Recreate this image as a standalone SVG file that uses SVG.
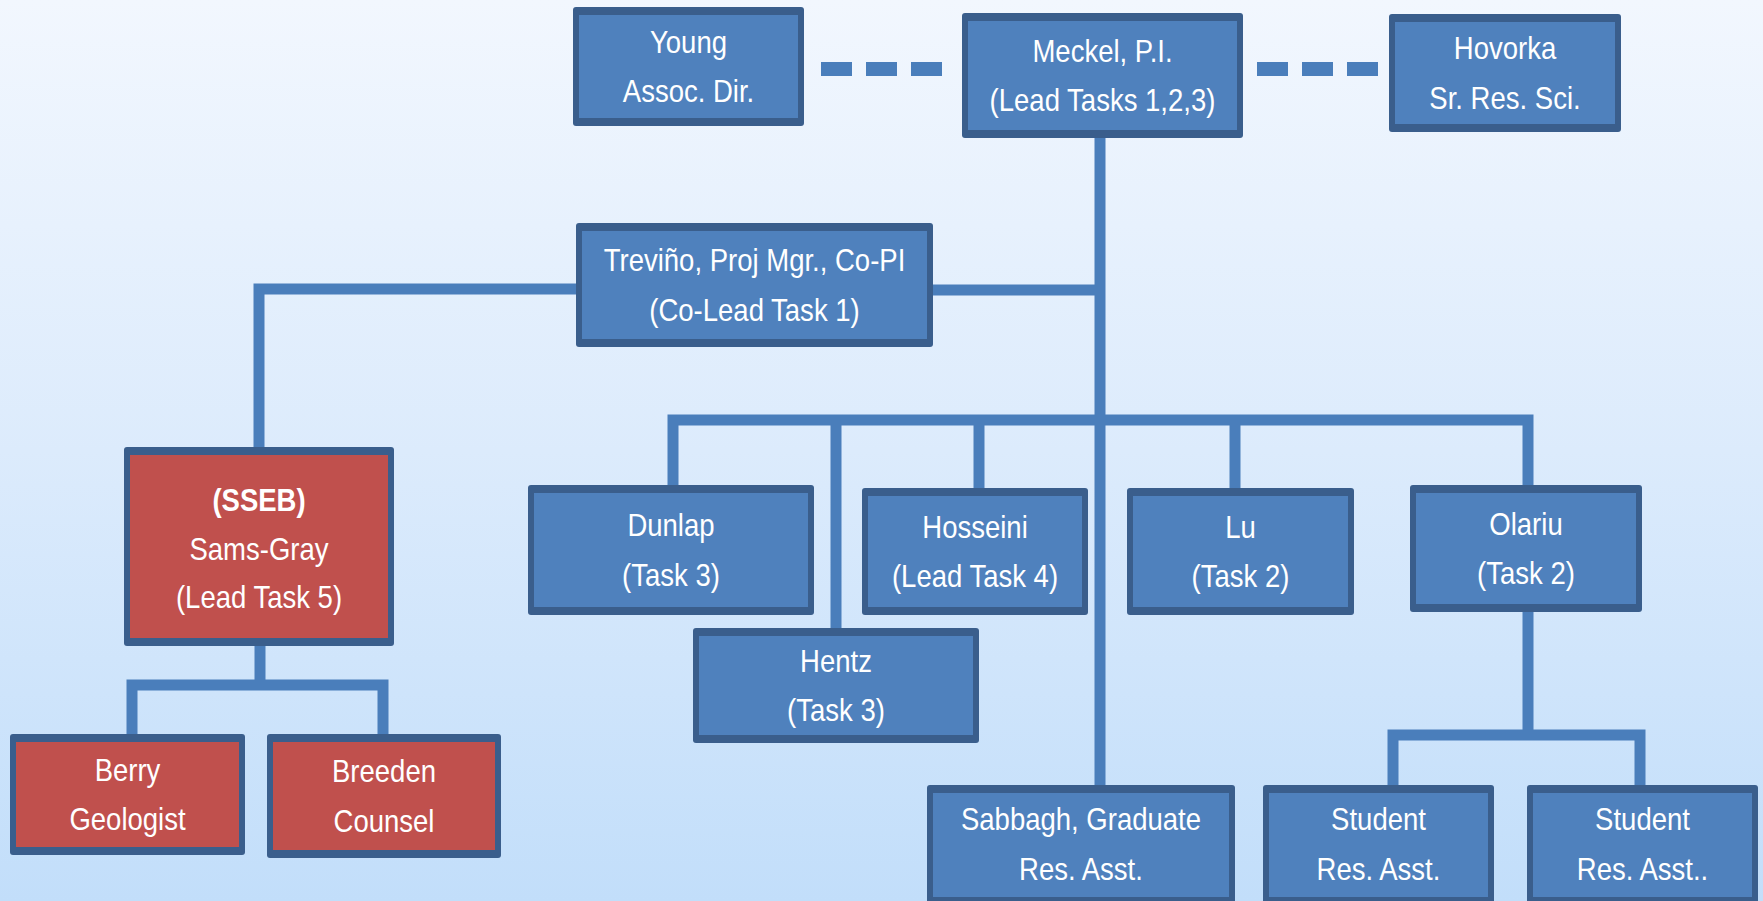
<svg xmlns="http://www.w3.org/2000/svg" width="1763" height="901" viewBox="0 0 1763 901">
<defs>
<linearGradient id="bg" x1="0" y1="0" x2="0" y2="1">
<stop offset="0" stop-color="#f2f7fe"/>
<stop offset="0.5" stop-color="#dcebfc"/>
<stop offset="1" stop-color="#c2defa"/>
</linearGradient>
<style>
.bd{fill:#3a5e8c}
.fb{fill:#4f81bd}
.fr{fill:#c0504d}
.ln{fill:none;stroke:#4a7ebb;stroke-width:11;stroke-linejoin:miter;stroke-linecap:butt}
.ds{fill:#4a7ebb}
text{font-family:"Liberation Sans",Arial,sans-serif;font-size:32px;fill:#ffffff;text-anchor:middle}
.b{font-weight:bold}
</style>
</defs>
<rect x="0" y="0" width="1763" height="901" fill="url(#bg)"/>
<g id="connectors">
<rect class="ds" x="821" y="62" width="31" height="14"/>
<rect class="ds" x="866" y="62" width="31" height="14"/>
<rect class="ds" x="911" y="62" width="31" height="14"/>
<rect class="ds" x="1257" y="62" width="31" height="14"/>
<rect class="ds" x="1302" y="62" width="31" height="14"/>
<rect class="ds" x="1347" y="62" width="31" height="14"/>
<path class="ln" d="M1100 138 V786"/>
<path class="ln" d="M933 290 H1100"/>
<path class="ln" d="M576 289 H259 V448"/>
<path class="ln" d="M673 486 V420 H1528 V486"/>
<path class="ln" d="M836 420 V629"/>
<path class="ln" d="M979 420 V489"/>
<path class="ln" d="M1235 420 V489"/>
<path class="ln" d="M260 646 V685"/>
<path class="ln" d="M132 735 V685 H383 V735"/>
<path class="ln" d="M1528 612 V735"/>
<path class="ln" d="M1393 786 V735 H1640 V786"/>
</g>
<g id="young">
<rect class="bd" x="573" y="7" width="231" height="119" rx="3"/>
<rect class="fb" x="579" y="15" width="219" height="103"/>
<g transform="translate(688.5 66.5) scale(0.86 1)"><text x="0" y="-14">Young</text><text x="0" y="36">Assoc. Dir.</text></g>
</g>
<g id="meckel">
<rect class="bd" x="962" y="13" width="281" height="125" rx="3"/>
<rect class="fb" x="968" y="21" width="269" height="109"/>
<g transform="translate(1102.5 75.5) scale(0.86 1)"><text x="0" y="-14">Meckel, P.I.</text><text x="0" y="36">(Lead Tasks 1,2,3)</text></g>
</g>
<g id="hovorka">
<rect class="bd" x="1389" y="14" width="232" height="118" rx="3"/>
<rect class="fb" x="1395" y="22" width="220" height="102"/>
<g transform="translate(1505 73) scale(0.86 1)"><text x="0" y="-14">Hovorka</text><text x="0" y="36">Sr. Res. Sci.</text></g>
</g>
<g id="trevino">
<rect class="bd" x="576" y="223" width="357" height="124" rx="3"/>
<rect class="fb" x="582" y="231" width="345" height="108"/>
<g transform="translate(754.5 285) scale(0.86 1)"><text x="0" y="-14">Treviño, Proj Mgr., Co-PI</text><text x="0" y="36">(Co-Lead Task 1)</text></g>
</g>
<g id="sseb">
<rect class="bd" x="124" y="447" width="270" height="199" rx="3"/>
<rect class="fr" x="130" y="455" width="258" height="183"/>
<g transform="translate(259 546.5) scale(0.86 1)"><text class="b" x="0" y="-36">(SSEB)</text><text x="0" y="13">Sams-Gray</text><text x="0" y="62">(Lead Task 5)</text></g>
</g>
<g id="dunlap">
<rect class="bd" x="528" y="485" width="286" height="130" rx="3"/>
<rect class="fb" x="534" y="493" width="274" height="114"/>
<g transform="translate(671 550) scale(0.86 1)"><text x="0" y="-14">Dunlap</text><text x="0" y="36">(Task 3)</text></g>
</g>
<g id="hosseini">
<rect class="bd" x="862" y="488" width="226" height="127" rx="3"/>
<rect class="fb" x="868" y="496" width="214" height="111"/>
<g transform="translate(975 551.5) scale(0.86 1)"><text x="0" y="-14">Hosseini</text><text x="0" y="36">(Lead Task 4)</text></g>
</g>
<g id="lu">
<rect class="bd" x="1127" y="488" width="227" height="127" rx="3"/>
<rect class="fb" x="1133" y="496" width="215" height="111"/>
<g transform="translate(1240.5 551.5) scale(0.86 1)"><text x="0" y="-14">Lu</text><text x="0" y="36">(Task 2)</text></g>
</g>
<g id="olariu">
<rect class="bd" x="1410" y="485" width="232" height="127" rx="3"/>
<rect class="fb" x="1416" y="493" width="220" height="111"/>
<g transform="translate(1526 548.5) scale(0.86 1)"><text x="0" y="-14">Olariu</text><text x="0" y="36">(Task 2)</text></g>
</g>
<g id="hentz">
<rect class="bd" x="693" y="628" width="286" height="115" rx="3"/>
<rect class="fb" x="699" y="636" width="274" height="99"/>
<g transform="translate(836 685.5) scale(0.86 1)"><text x="0" y="-14">Hentz</text><text x="0" y="36">(Task 3)</text></g>
</g>
<g id="berry">
<rect class="bd" x="10" y="734" width="235" height="121" rx="3"/>
<rect class="fr" x="16" y="742" width="223" height="105"/>
<g transform="translate(127.5 794.5) scale(0.86 1)"><text x="0" y="-14">Berry</text><text x="0" y="36">Geologist</text></g>
</g>
<g id="breeden">
<rect class="bd" x="267" y="734" width="234" height="124" rx="3"/>
<rect class="fr" x="273" y="742" width="222" height="108"/>
<g transform="translate(384 796) scale(0.86 1)"><text x="0" y="-14">Breeden</text><text x="0" y="36">Counsel</text></g>
</g>
<g id="sabbagh">
<rect class="bd" x="927" y="785" width="308" height="118" rx="3"/>
<rect class="fb" x="933" y="793" width="296" height="104"/>
<g transform="translate(1081 844) scale(0.86 1)"><text x="0" y="-14">Sabbagh, Graduate</text><text x="0" y="36">Res. Asst.</text></g>
</g>
<g id="student1">
<rect class="bd" x="1263" y="785" width="231" height="118" rx="3"/>
<rect class="fb" x="1269" y="793" width="219" height="104"/>
<g transform="translate(1378.5 844) scale(0.86 1)"><text x="0" y="-14">Student</text><text x="0" y="36">Res. Asst.</text></g>
</g>
<g id="student2">
<rect class="bd" x="1527" y="785" width="231" height="118" rx="3"/>
<rect class="fb" x="1533" y="793" width="219" height="104"/>
<g transform="translate(1642.5 844) scale(0.86 1)"><text x="0" y="-14">Student</text><text x="0" y="36">Res. Asst..</text></g>
</g>
</svg>
